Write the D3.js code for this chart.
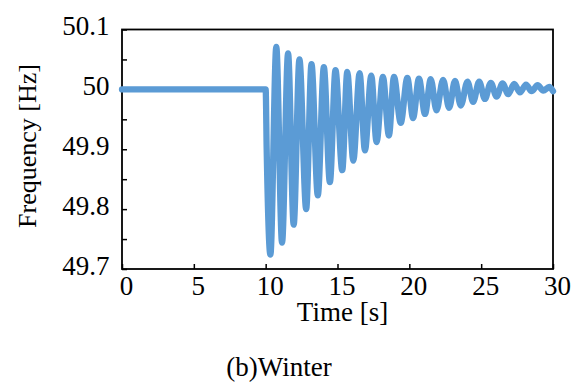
<!DOCTYPE html>
<html>
<head>
<meta charset="utf-8">
<script src="https://cdn.jsdelivr.net/npm/d3@7"></script>
<style>
  body { margin: 0; background: #fff; }
  text { font-family: "Liberation Serif", "Times New Roman", serif; fill: #000; }
</style>
</head>
<body>
<svg id="chart" width="572" height="383"></svg>
<script>
// values: steady state, then the swing extremes after the event
const steadyTimes = [0, 10.0, 10.07];
const steadyValues = [50.0, 50.0, 49.90];

const troughTimes = [10.33, 11.14, 11.95, 12.82, 13.63, 14.47, 15.33, 16.10, 16.91, 17.72, 18.58, 19.40,
  20.26, 21.09, 21.89, 22.77, 23.58, 24.44, 25.26, 26.07, 26.88, 27.70, 28.51, 29.32];
const troughValues = [49.724, 49.744, 49.774, 49.800, 49.823, 49.845, 49.865, 49.881, 49.898, 49.912, 49.923, 49.944,
  49.952, 49.959, 49.965, 49.969, 49.973, 49.979, 49.984, 49.988, 49.992, 49.995, 49.997, 49.998];

const peakTimes = [10.74, 11.56, 12.35, 13.19, 14.05, 14.86, 15.68, 16.54, 17.35, 18.16, 18.93, 19.86,
  20.67, 21.49, 22.35, 23.18, 24.05, 24.86, 25.67, 26.49, 27.30, 28.12, 28.93, 29.74];
const peakValues = [50.071, 50.060, 50.050, 50.042, 50.037, 50.032, 50.029, 50.027, 50.023, 50.021, 50.021, 50.019,
  50.018, 50.017, 50.016, 50.014, 50.013, 50.013, 50.011, 50.010, 50.009, 50.008, 50.007, 50.004];

const endTimes = [30.0];
const endValues = [49.997];

const xTicks = [0, 5, 10, 15, 20, 25, 30];
const yTicks = [49.7, 49.75, 49.8, 49.85, 49.9, 49.95, 50.0, 50.05, 50.1];
const yLabelled = [49.7, 49.8, 49.9, 50.0, 50.1];

const width = 572;
const height = 383;
const margin = {top: 29.5, right: 19, bottom: 114, left: 122};
const plotW = width - margin.left - margin.right;
const plotH = height - margin.top - margin.bottom;
const serif = '"Liberation Serif", "Times New Roman", serif';

const pairs = (ts, vs) => ts.map((t, i) => ({t: t, v: vs[i]}));
const data = [].concat(
  pairs(steadyTimes, steadyValues),
  pairs(troughTimes, troughValues),
  pairs(peakTimes, peakValues),
  pairs(endTimes, endValues)
).sort((a, b) => a.t - b.t);

const svg = d3.select('#chart');

const x = d3.scaleLinear().domain([0, 30]).range([0, plotW]);
const y = d3.scaleLinear().domain([49.7, 50.1]).range([plotH, 0]);

const plot = svg.append('g')
  .attr('transform', `translate(${margin.left}, ${margin.top})`)
  ;

// axes, ticks pointing in
const xAxis = d3.axisBottom(x)
  .tickValues(xTicks)
  .tickFormat(d3.format('d'))
  .tickSizeInner(-5)
  .tickSizeOuter(0)
  .tickPadding(7)
  ;

const yAxis = d3.axisLeft(y)
  .tickValues(yTicks)
  .tickFormat(d => yLabelled.some(l => Math.abs(l - d) < 1e-6) ? String(+d.toFixed(1)) : '')
  .tickSizeInner(-5)
  .tickSizeOuter(0)
  .tickPadding(12.5)
  ;

const gx = plot.append('g')
  .attr('transform', `translate(0, ${plotH})`)
  .call(xAxis)
  ;
gx.selectAll('text').attr('dx', 4);

const gy = plot.append('g').call(yAxis);
gy.selectAll('text').attr('dy', '0.2em');

[gx, gy].forEach(g => {
  g.attr('font-family', serif).attr('font-size', 27);
  g.select('.domain').remove();
  g.selectAll('.tick line').attr('stroke', '#000').attr('stroke-width', 1.5);
  g.selectAll('text').style('font-size', '27px').style('font-family', serif).attr('fill', '#000');
});

// frame
plot.append('rect')
  .attr('x', 0)
  .attr('y', 0)
  .attr('width', plotW)
  .attr('height', plotH)
  .attr('fill', 'none')
  .attr('stroke', '#000')
  .attr('stroke-width', 1.8)
  ;

const line = d3.line()
  .x(d => x(d.t))
  .y(d => y(d.v))
  .curve(d3.curveMonotoneX)
  ;

plot.append('path')
  .datum(data)
  .attr('d', line)
  .attr('fill', 'none')
  .attr('stroke', '#5B9BD5')
  .attr('stroke-width', 6.3)
  .attr('stroke-linejoin', 'round')
  .attr('stroke-linecap', 'round')
  ;

// labels
svg.append('text')
  .attr('x', 342.5)
  .attr('y', 321)
  .attr('text-anchor', 'middle')
  .style('font-size', '27px')
  .text('Time [s]')
  ;

svg.append('text')
  .attr('transform', 'translate(36, 146) rotate(-90)')
  .attr('text-anchor', 'middle')
  .style('font-size', '26px')
  .text('Frequency [Hz]')
  ;

svg.append('text')
  .attr('x', 279)
  .attr('y', 376)
  .attr('text-anchor', 'middle')
  .style('font-size', '27px')
  .text('(b)Winter')
  ;
</script>
</body>
</html>
